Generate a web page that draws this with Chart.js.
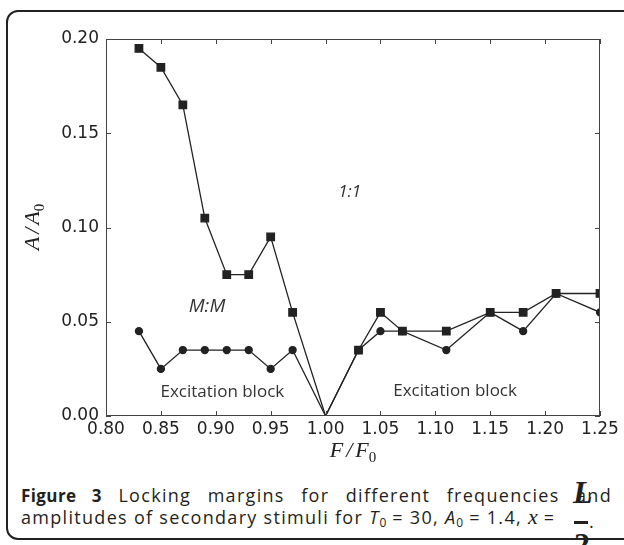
<!DOCTYPE html>
<html>
<head>
<meta charset="utf-8">
<script src="https://cdn.jsdelivr.net/npm/chart.js@4"></script>
<style>
  body { margin: 0; background: #fff; width: 624px; height: 545px; overflow: hidden; position: relative; }
  #frame { position: absolute; left: 6px; top: 10px; width: 630px; height: 526px; border: 2px solid #222; border-radius: 12px; }
  #plot { position: absolute; left: 0; top: 0; }
  .cap { position: absolute; left: 21px; width: 591px; font-family: "Open Sans", sans-serif; font-size: 18px; line-height: 20px; color: #231f20; white-space: nowrap; letter-spacing: 1.3px; }
  .cap b { letter-spacing: 0.4px; font-size: 17px; }
  #line1 { top: 485px; text-align: justify; text-align-last: justify; white-space: normal; }
  #line2 { top: 507px; }
  .m { font-family: "Liberation Serif", serif; font-style: italic; font-size: 22px; letter-spacing: 0; }
  sub { font-size: 12px; vertical-align: -3px; line-height: 0; letter-spacing: 0; }
  .frac { position: absolute; font-family: "Liberation Serif", serif; font-style: italic; font-weight: bold; font-size: 32px; line-height: 32px; color: #231f20; }
</style>
</head>
<body>
<div id="frame"></div>
<canvas id="plot" width="624" height="470"></canvas>
<div class="cap" id="line1"><b>Figure 3</b> Locking margins for different frequencies and</div>
<div class="cap" id="line2">amplitudes of secondary stimuli for <i>T</i><sub>0</sub> = 30, <i>A</i><sub>0</sub> = 1.4, <span class="m">x</span> = </div>
<div class="frac" style="left:573px; top:476px;">L</div>
<div style="position:absolute; left:574px; top:521px; width:14px; height:3px; background:#231f20;"></div>
<div class="frac" style="left:574px; top:528px; font-style:normal;">2</div>
<div class="cap" style="left:589px; top:511px; width:auto;">.</div>
<script>
// F/F0 values and locking margins A/A0
const freqRatio = [0.83, 0.85, 0.87, 0.89, 0.91, 0.93, 0.95, 0.97, 1.00, 1.03, 1.05, 1.07, 1.11, 1.15, 1.18, 1.21, 1.25];
const upperMargin = [0.195, 0.185, 0.165, 0.105, 0.075, 0.075, 0.095, 0.055, 0.0, 0.035, 0.055, 0.045, 0.045, 0.055, 0.055, 0.065, 0.065];
const lowerMargin = [0.045, 0.025, 0.035, 0.035, 0.035, 0.035, 0.025, 0.035, 0.0, 0.035, 0.045, 0.045, 0.035, 0.055, 0.045, 0.065, 0.055];
const xTicks = [0.80, 0.85, 0.90, 0.95, 1.00, 1.05, 1.10, 1.15, 1.20, 1.25];
const yTicks = [0.00, 0.05, 0.10, 0.15, 0.20];
// region labels: [text, F/F0, A/A0, italic, size]
const regionLabels = [
  ['1:1', 1.022, 0.119, true, 17],
  ['M:M', 0.892, 0.058, true, 19],
  ['Excitation block', 0.906, 0.0125, false, 17],
  ['Excitation block', 1.118, 0.0130, false, 17]
];

const ink = '#222';
const pts = (ys) => freqRatio.map((x, i) => ({ x: x, y: ys[i] }));
const radii = (r) => freqRatio.map(x => x === 1.0 ? 0 : r);

const decorations = {
  id: 'decorations',
  afterDatasetsDraw(chart) {
    const ctx = chart.ctx;
    const a = chart.chartArea;
    const xs = chart.scales.x, ys = chart.scales.y;
    ctx.save();
    // frame + inward ticks
    ctx.strokeStyle = '#444';
    ctx.lineWidth = 1;
    ctx.strokeRect(a.left + 0.5, a.top + 0.5, a.right - a.left - 1, a.bottom - a.top - 1);
    ctx.beginPath();
    xTicks.forEach(v => {
      const p = Math.round(xs.getPixelForValue(v)) + 0.5;
      ctx.moveTo(p, a.bottom); ctx.lineTo(p, a.bottom - 5);
      ctx.moveTo(p, a.top); ctx.lineTo(p, a.top + 5);
    });
    yTicks.forEach(v => {
      const p = Math.round(ys.getPixelForValue(v)) + 0.5;
      ctx.moveTo(a.left, p); ctx.lineTo(a.left + 5, p);
      ctx.moveTo(a.right, p); ctx.lineTo(a.right - 5, p);
    });
    ctx.stroke();
    // region labels
    ctx.fillStyle = '#333';
    ctx.textAlign = 'center';
    ctx.textBaseline = 'middle';
    regionLabels.forEach(([t, fx, fy, it, sz]) => {
      ctx.font = (it ? 'italic ' : '') + sz + 'px "Open Sans"';
      ctx.fillText(t, xs.getPixelForValue(fx), ys.getPixelForValue(fy));
    });
    // axis titles (math style)
    ctx.fillStyle = ink;
    const drawFrac = (sym, cx, cy) => {
      ctx.textAlign = 'left';
      ctx.textBaseline = 'alphabetic';
      ctx.font = 'italic 22px "Liberation Serif"';
      const w1 = ctx.measureText(sym).width;
      const ws = ctx.measureText('/').width;
      ctx.font = '15px "Liberation Serif"';
      const w0 = ctx.measureText('0').width;
      const total = w1 * 2 + ws + 6 + w0;
      let x = cx - total / 2;
      ctx.font = 'italic 22px "Liberation Serif"';
      ctx.fillText(sym, x, cy); x += w1 + 3;
      ctx.fillText('/', x, cy); x += ws + 3;
      ctx.fillText(sym, x, cy); x += w1;
      ctx.font = '15px "Liberation Serif"';
      ctx.fillText('0', x, cy + 5);
    };
    drawFrac('F', (a.left + a.right) / 2, 457);
    ctx.translate(39, 227);
    ctx.rotate(-Math.PI / 2);
    drawFrac('A', 0, 0);
    ctx.restore();
  }
};

new Chart(document.getElementById('plot'), {
  type: 'line',
  data: {
    datasets: [{
      label: 'upper',
      data: pts(upperMargin),
      borderColor: ink,
      backgroundColor: ink,
      borderWidth: 1.3,
      pointStyle: 'rect',
      pointRadius: radii(5.3),
      tension: 0
    }, {
      label: 'lower',
      data: pts(lowerMargin),
      borderColor: ink,
      backgroundColor: ink,
      borderWidth: 1.3,
      pointStyle: 'circle',
      pointRadius: radii(3.5),
      tension: 0
    }]
  },
  options: {
    responsive: false,
    animation: false,
    events: [],
    layout: { padding: { left: 0, right: 24, top: 39, bottom: 0 } },
    plugins: { legend: { display: false }, tooltip: { enabled: false } },
    scales: {
      x: {
        type: 'linear', min: 0.8, max: 1.25,
        afterBuildTicks: s => { s.ticks = xTicks.map(v => ({ value: v })); },
        afterFit: s => { s.height = 54; },
        grid: { display: false, drawTicks: false },
        border: { display: false },
        ticks: { padding: 3, color: ink, font: { family: 'DejaVu Sans', size: 17 }, callback: v => v.toFixed(2) }
      },
      y: {
        type: 'linear', min: 0, max: 0.2,
        afterBuildTicks: s => { s.ticks = yTicks.map(v => ({ value: v })); },
        afterFit: s => { s.width = 106; },
        grid: { display: false, drawTicks: false },
        border: { display: false },
        ticks: { padding: 7, color: ink, font: { family: 'DejaVu Sans', size: 17 }, callback: v => v.toFixed(2) }
      }
    }
  },
  plugins: [decorations]
});
</script>
</body>
</html>
